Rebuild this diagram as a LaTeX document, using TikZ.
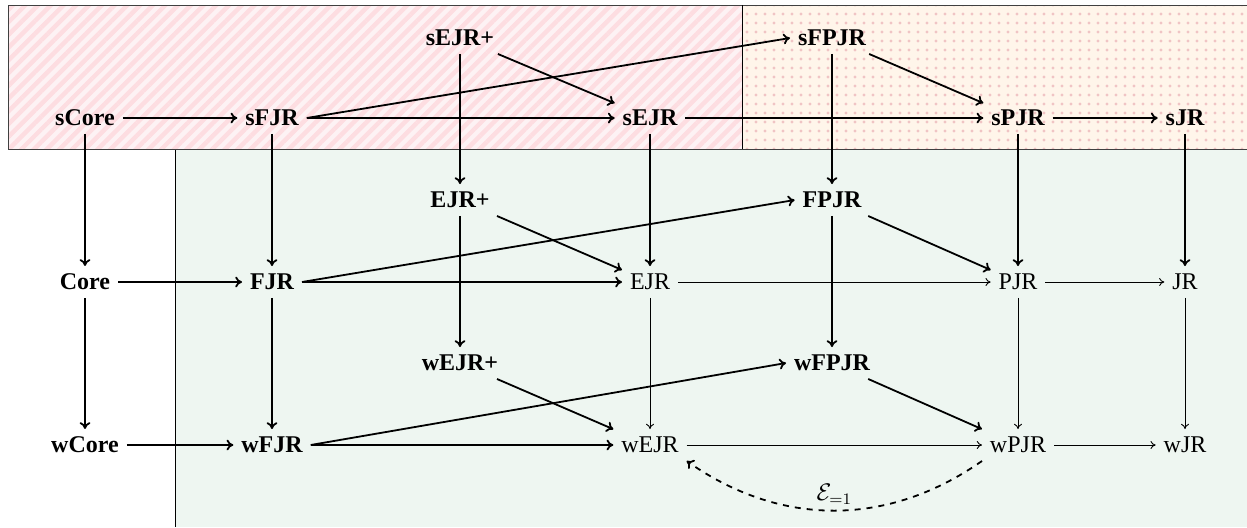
\documentclass[tikz,border=0pt]{standalone}
\usepackage{fontspec}
\setmainfont{Liberation Serif}
\usetikzlibrary{patterns.meta,arrows.meta}
\definecolor{pinkbg}{HTML}{FDF2F4}
\definecolor{pinkline}{HTML}{FDDDE1}
\definecolor{orangebg}{HTML}{FFF5EA}
\definecolor{dotcol}{HTML}{F0C4C4}
\definecolor{greenbg}{HTML}{EEF6F1}
\begin{document}
\begin{tikzpicture}[x=0.5pt,y=-0.5pt,
  every node/.style={font=\fontsize{12}{14}\selectfont, inner sep=3pt, outer sep=1pt},
  bn/.style={font=\fontsize{12}{14}\selectfont\bfseries},
  th/.style={->, line width=0.9pt, >={To[length=3.4pt,width=5.4pt]}},
  tn/.style={->, line width=0.45pt, >={To[length=2.6pt,width=4pt]}}]
\useasboundingbox (0,0) rectangle (1247,527);
% regions
\fill[greenbg] (175,149) rectangle (1247,527);
\draw[line width=0.4pt] (175,149) -- (175,527);
\fill[pinkbg] (8,5) rectangle (742,149);
\fill[pattern={Lines[angle=45,distance=4.5pt,line width=2.2pt]}, pattern color=pinkline] (8,5) rectangle (742,149);
\fill[orangebg] (742,5) rectangle (1247,149);
\fill[pattern={Dots[distance=4.5pt,radius=0.8pt]}, pattern color=dotcol] (742,5) rectangle (1247,149);
\draw[line width=0.4pt, black!75] (1247,5) -- (8,5) -- (8,149) -- (1247,149);
\draw[line width=0.4pt] (742,5) -- (742,149);
% nodes row s
\node[bn] (sCore) at (85,118) {sCore};
\node[bn] (sFJR) at (272,118) {sFJR};
\node[bn] (sEJR) at (650,118) {sEJR};
\node[bn] (sPJR) at (1018,118) {sPJR};
\node[bn] (sJR) at (1185,118) {sJR};
\node[bn] (sEJRp) at (460,38) {sEJR+};
\node[bn] (sFPJR) at (832,38) {sFPJR};
% middle
\node[bn] (EJRp) at (460,200) {EJR+};
\node[bn] (FPJR) at (832,200) {FPJR};
\node[bn] (Core) at (85,282) {Core};
\node[bn] (FJR) at (272,282) {FJR};
\node (EJR) at (650,282) {EJR};
\node (PJR) at (1018,282) {PJR};
\node (JR) at (1185,282) {JR};
% w
\node[bn] (wEJRp) at (460,363) {wEJR+};
\node[bn] (wFPJR) at (832,363) {wFPJR};
\node[bn] (wCore) at (85,445) {wCore};
\node[bn] (wFJR) at (272,445) {wFJR};
\node (wEJR) at (650,445) {wEJR};
\node (wPJR) at (1018,445) {wPJR};
\node (wJR) at (1185,445) {wJR};
% thick edges
\draw[th] (sCore) -- (sFJR);
\draw[th] (sFJR.east) -- (sFPJR.west);
\draw[th] (sFJR) -- (sEJR);
\draw[th] (sEJRp) -- (sEJR);
\draw[th] (sEJRp) -- (EJRp);
\draw[th] (sFPJR) -- (sPJR);
\draw[th] (sFPJR) -- (FPJR);
\draw[th] (sEJR) -- (sPJR);
\draw[th] (sPJR) -- (sJR);
\draw[th] (sCore) -- (Core);
\draw[th] (sFJR) -- (FJR);
\draw[th] (sEJR) -- (EJR);
\draw[th] (sPJR) -- (PJR);
\draw[th] (sJR) -- (JR);
\draw[th] (Core) -- (FJR);
\draw[th] (FJR.east) -- (FPJR.west);
\draw[th] (FJR) -- (EJR);
\draw[th] (EJRp) -- (EJR);
\draw[th] (EJRp) -- (wEJRp);
\draw[th] (FPJR) -- (PJR);
\draw[th] (FPJR) -- (wFPJR);
\draw[th] (Core) -- (wCore);
\draw[th] (FJR) -- (wFJR);
\draw[th] (wCore) -- (wFJR);
\draw[th] (wFJR.east) -- (wFPJR.west);
\draw[th] (wFJR) -- (wEJR);
\draw[th] (wEJRp) -- (wEJR);
\draw[th] (wFPJR) -- (wPJR);
% thin edges
\draw[tn] (EJR) -- (PJR);
\draw[tn] (PJR) -- (JR);
\draw[tn] (EJR) -- (wEJR);
\draw[tn] (PJR) -- (wPJR);
\draw[tn] (JR) -- (wJR);
\draw[tn] (wEJR) -- (wPJR);
\draw[tn] (wPJR) -- (wJR);
% dashed
\draw[th, dashed] (wPJR.south west) to[bend left=35] node[above=-1pt] {$\mathcal{E}_{=1}$} (wEJR.south east);
\end{tikzpicture}
\end{document}
